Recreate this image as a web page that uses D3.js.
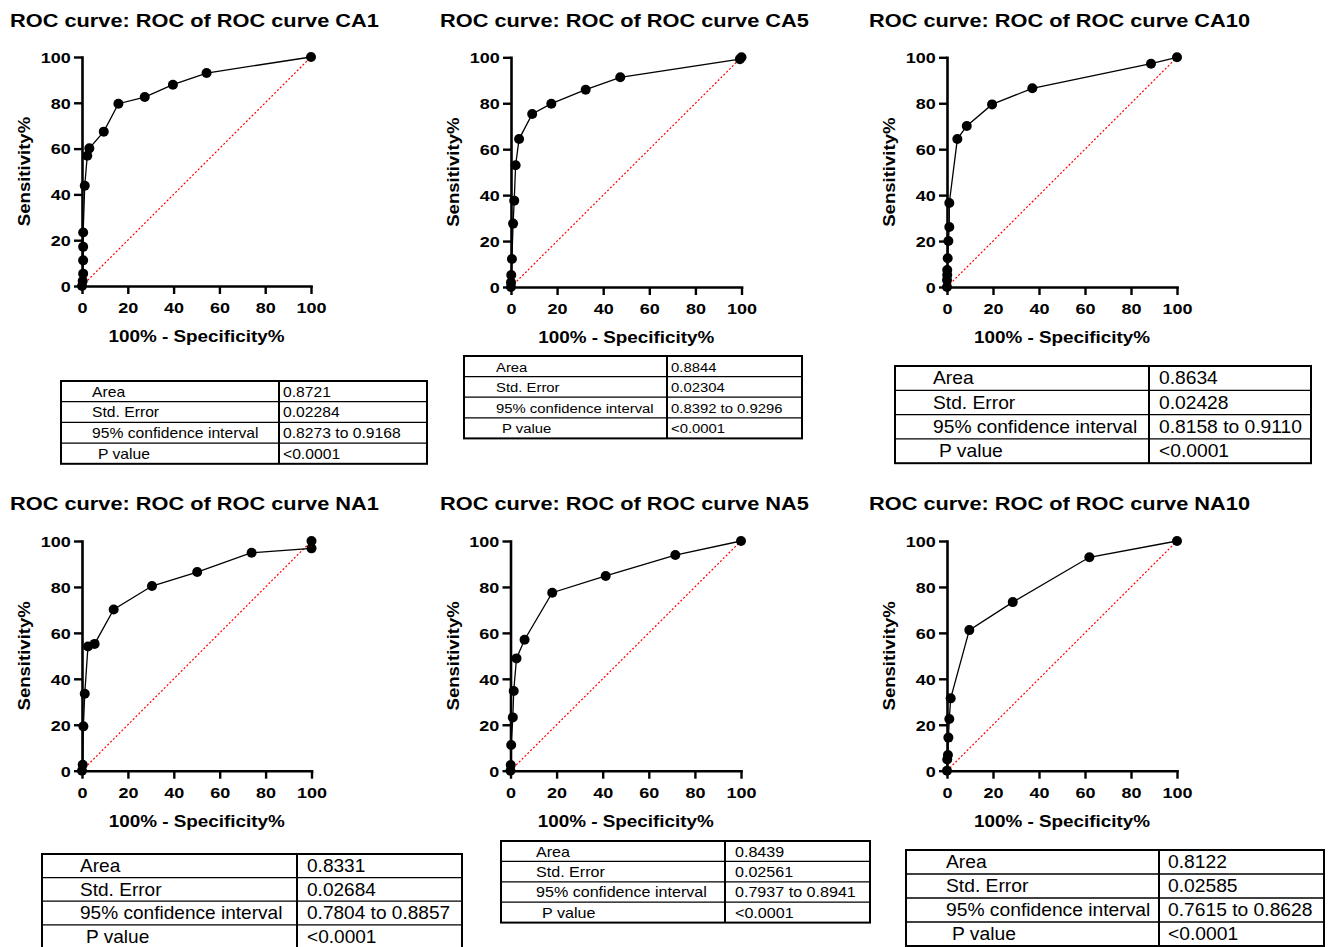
<!DOCTYPE html>
<html>
  <head>
    <script src="https://d3js.org/d3.v7.min.js"></script>
  </head>
  <body>
    <svg id="viz" width="1331" height="947"></svg>
  </body>
  <script>
    // curve points (100% - specificity, sensitivity)
    const fprCA1 = [0, 0.3, 0.5, 0.5, 0.5, 0.5, 1.2, 2.3, 3.2, 9.5, 15.9, 27.4, 39.7, 54.4, 100];
    const sensCA1 = [0, 2.2, 5.4, 11.2, 17.1, 23.4, 43.8, 56.9, 60.1, 67.4, 79.6, 82.5, 87.9, 93.0, 100];

    const fprCA5 = [0, 0, 0.1, 0.4, 0.9, 1.4, 2.0, 3.5, 9.2, 17.5, 32.4, 47.4, 99.3, 100];
    const sensCA5 = [0, 2, 5.2, 12.2, 27.6, 37.6, 53.0, 64.4, 75.3, 79.8, 85.9, 91.3, 99.2, 100];

    const fprCA10 = [0, 0, 0.1, 0.1, 0.3, 0.6, 1.0, 1.0, 4.5, 8.6, 19.6, 37.1, 88.7, 100];
    const sensCA10 = [0, 3, 5.2, 7.4, 12.5, 20.0, 26.1, 36.6, 64.4, 70.1, 79.5, 86.5, 97.2, 100];

    const fprNA1 = [0, 0.3, 0.6, 1.2, 2.6, 5.5, 13.8, 30.5, 50.2, 73.9, 100, 100];
    const sensNA1 = [0, 2.6, 19.3, 33.5, 54.1, 55.2, 70.2, 80.4, 86.5, 94.9, 96.8, 100];

    const fprNA5 = [0, 0.1, 0.3, 1.0, 1.4, 2.6, 6.1, 18.1, 41.3, 71.5, 100];
    const sensNA5 = [0, 2.5, 11.2, 23.2, 34.7, 48.9, 57.0, 77.5, 84.8, 93.9, 100];

    const fprNA10 = [0, 0.1, 0.4, 0.6, 1.0, 1.6, 9.7, 28.6, 61.9, 100];
    const sensNA10 = [0, 4.9, 6.8, 14.4, 22.5, 31.5, 61.2, 73.4, 92.9, 100];

    const tickValues = [0, 20, 40, 60, 80, 100];

    // result tables
    const rowLabels = ["Area", "Std. Error", "95% confidence interval", "P value"];
    const areas = ["0.8721", "0.8844", "0.8634", "0.8331", "0.8439", "0.8122"];
    const stdErrors = ["0.02284", "0.02304", "0.02428", "0.02684", "0.02561", "0.02585"];
    const ciTexts = [
      "0.8273 to 0.9168",
      "0.8392 to 0.9296",
      "0.8158 to 0.9110",
      "0.7804 to 0.8857",
      "0.7937 to 0.8941",
      "0.7615 to 0.8628",
    ];
    const pValues = ["<0.0001", "<0.0001", "<0.0001", "<0.0001", "<0.0001", "<0.0001"];

    const FONT = "'Liberation Sans', Arial, Helvetica, sans-serif";
    const svg = d3.select("svg#viz");
    svg.append("rect").attr("width", 1331).attr("height", 947).attr("fill", "#fff");

    // text that is a bit wider than the font, like the original export
    function wideText(g, x, y, str, size, sx, opts = {}) {
      const rot = opts.rotate ? ` rotate(${opts.rotate})` : "";
      return g
        .append("text")
        .attr("transform", `translate(${x},${y})${rot} scale(${sx},1)`)
        .attr("text-anchor", opts.anchor || "start")
        .attr("font-family", FONT)
        .attr("font-weight", opts.bold ? "bold" : "normal")
        .attr("font-size", size)
        .attr("fill", "#000")
        .text(str);
    }

    const panels = [
      { name: "CA1", fpr: fprCA1, sens: sensCA1, x0: 82, x1: 311, y0: 286, y1: 57, tx: 10, ty: 27 },
      { name: "CA5", fpr: fprCA5, sens: sensCA5, x0: 511, x1: 741.5, y0: 287, y1: 57.3, tx: 440, ty: 27 },
      { name: "CA10", fpr: fprCA10, sens: sensCA10, x0: 947, x1: 1177, y0: 287, y1: 57.3, tx: 869, ty: 27 },
      { name: "NA1", fpr: fprNA1, sens: sensNA1, x0: 82, x1: 311.5, y0: 770.7, y1: 541, tx: 10, ty: 510 },
      { name: "NA5", fpr: fprNA5, sens: sensNA5, x0: 510.5, x1: 741, y0: 770.7, y1: 541, tx: 440, ty: 510 },
      { name: "NA10", fpr: fprNA10, sens: sensNA10, x0: 947, x1: 1177, y0: 770.7, y1: 541, tx: 869, ty: 510 },
    ];

    panels.forEach((p) => {
      const g = svg.append("g");
      const x = d3.scaleLinear().domain([0, 100]).range([p.x0, p.x1]);
      const y = d3.scaleLinear().domain([0, 100]).range([p.y0, p.y1]);

      wideText(g, p.tx, p.ty, "ROC curve: ROC of ROC curve " + p.name, 18, 1.21, { bold: true });

      // axes
      const xAxis = g
        .append("g")
        .attr("transform", `translate(0,${p.y0})`)
        .call(d3.axisBottom(x).tickValues(tickValues).tickSize(8).tickSizeOuter(0));
      const yAxis = g
        .append("g")
        .attr("transform", `translate(${p.x0},0)`)
        .call(d3.axisLeft(y).tickValues(tickValues).tickSize(8).tickSizeOuter(0));

      [xAxis, yAxis].forEach((a) => {
        a.select(".domain").attr("stroke-width", 2.6).attr("stroke-linecap", "square");
        a.selectAll(".tick line").attr("stroke-width", 2.4);
        a.selectAll(".tick text")
          .attr("font-family", FONT)
          .attr("font-weight", "bold")
          .attr("font-size", 15)
          .attr("fill", "#000")
          .attr("x", null)
          .attr("y", null)
          .attr("dy", null);
      });
      xAxis.selectAll(".tick text").attr("transform", "translate(0,27) scale(1.2,1)");
      yAxis.selectAll(".tick text").attr("transform", "translate(-11.3,5.3) scale(1.2,1)");

      wideText(g, (p.x0 + p.x1) / 2, p.y0 + 56, "100% - Specificity%", 16, 1.18, {
        anchor: "middle",
        bold: true,
      });
      wideText(g, p.x0 - 52, (p.y0 + p.y1) / 2, "Sensitivity%", 16, 1.16, {
        anchor: "middle",
        bold: true,
        rotate: -90,
      });

      // chance line
      g.append("line")
        .attr("x1", x(0))
        .attr("y1", y(0))
        .attr("x2", x(100))
        .attr("y2", y(100))
        .attr("stroke", "#f00")
        .attr("stroke-width", 1.2)
        .attr("stroke-dasharray", "2,2");

      const pts = p.fpr.map((v, i) => [v, p.sens[i]]);
      g.append("path")
        .datum(pts)
        .attr("fill", "none")
        .attr("stroke", "#000")
        .attr("stroke-width", 1.3)
        .attr("d", d3.line().x((d) => x(d[0])).y((d) => y(d[1])));

      g.selectAll("circle")
        .data(pts)
        .join("circle")
        .attr("cx", (d) => x(d[0]))
        .attr("cy", (d) => y(d[1]))
        .attr("r", 5)
        .attr("fill", "#000");
    });

    // table boxes
    const tables = [
      { left: 61, right: 427, mid: 279, top: 381, rowH: 20.7, lx: 92, vx: 283, fs: 14, sx: 1.12 },
      { left: 464, right: 802, mid: 667, top: 356, rowH: 20.6, lx: 496, vx: 671, fs: 13.5, sx: 1.1 },
      { left: 895, right: 1311, mid: 1149, top: 366, rowH: 24.3, lx: 933, vx: 1159, fs: 17.5, sx: 1.1 },
      { left: 42, right: 462, mid: 297, top: 854, rowH: 23.6, lx: 80, vx: 307, fs: 18, sx: 1.06 },
      { left: 501, right: 870, mid: 725, top: 841, rowH: 20.4, lx: 536, vx: 735, fs: 14, sx: 1.15 },
      { left: 906, right: 1324, mid: 1159, top: 850, rowH: 24, lx: 946, vx: 1168, fs: 18, sx: 1.07 },
    ];

    tables.forEach((t, i) => {
      const g = svg.append("g");
      const values = [areas[i], stdErrors[i], ciTexts[i], pValues[i]];
      const rows = d3.range(4);
      const ry = d3.scaleLinear().domain([0, 4]).range([t.top, t.top + 4 * t.rowH]);

      g.selectAll("line.row")
        .data([1, 2, 3])
        .join("line")
        .attr("class", "row")
        .attr("x1", t.left)
        .attr("x2", t.right)
        .attr("y1", (d) => ry(d))
        .attr("y2", (d) => ry(d))
        .attr("stroke", "#000")
        .attr("stroke-width", 1.3);

      g.append("line")
        .attr("x1", t.mid)
        .attr("x2", t.mid)
        .attr("y1", ry(0))
        .attr("y2", ry(4))
        .attr("stroke", "#000")
        .attr("stroke-width", 2);

      g.append("rect")
        .attr("x", t.left)
        .attr("y", ry(0))
        .attr("width", t.right - t.left)
        .attr("height", ry(4) - ry(0))
        .attr("fill", "none")
        .attr("stroke", "#000")
        .attr("stroke-width", 2);

      rows.forEach((r) => {
        const base = ry(r) + t.rowH * 0.76;
        const lx = t.lx + (r === 3 ? 6 : 0);
        wideText(g, lx, base, rowLabels[r], t.fs, t.sx);
        wideText(g, t.vx, base, values[r], t.fs, t.sx);
      });
    });
  </script>
  <style>
    body {
      margin: 0px;
    }
  </style>
</html>
